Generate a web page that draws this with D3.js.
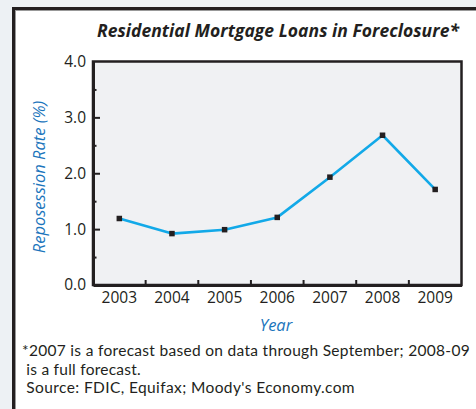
<!DOCTYPE html>
<html>
<head>
<meta charset="utf-8">
<script src="https://cdn.jsdelivr.net/npm/d3@7"></script>
<style>
  html, body { margin: 0; padding: 0; background: #edf1f4; }
  svg { display: block; }
  text { fill: #231f20; }
</style>
</head>
<body>
<div id="chart"></div>
<script>
// data
const years = ['2003', '2004', '2005', '2006', '2007', '2008', '2009']
const rates = [1.19, 0.92, 0.99, 1.21, 1.93, 2.68, 1.71]
const yTicks = [0, 1, 2, 3, 4]
const yMinorTicks = [0.5, 1.5, 2.5, 3.5]
const titleText = 'Residential Mortgage Loans in Foreclosure*'
const noteLines = [
	'*2007 is a forecast based on data through September; 2008-09',
	' is a full forecast.',
	' Source: FDIC, Equifax; Moody\'s Economy.com'
]

const width = 476
const height = 409
const margin = { top: 61.5, right: 14.5, bottom: 124, left: 93 }
const ink = '#231f20'
const blue = '#1b75bc'

// stretch a text line to a target width with letter spacing (fonts differ from the original)
const fitWidth = (sel, target) => {
	sel.each(function () {
		const len = this.getComputedTextLength()
		const n = this.textContent.length
		if (n > 1) d3.select(this).style('letter-spacing', `${(target - len) / n}px`)
	})
}

const svg = d3.select('#chart')
	.append('svg')
	.attr('width', width)
	.attr('height', height)

// card frame that runs off the right and bottom edges
svg.append('rect')
	.attr('x', 13.5).attr('y', 8.5)
	.attr('width', width + 20).attr('height', height + 20)
	.attr('fill', '#fff')
	.attr('stroke', ink)
	.attr('stroke-width', 3)
svg.append('rect')
	.attr('x', 15.5).attr('y', 10.5)
	.attr('width', width + 20).attr('height', height + 20)
	.attr('fill', 'none')
	.attr('stroke', '#999')
	.attr('stroke-width', 1)

const x = d3.scaleBand()
	.domain(years)
	.range([margin.left, width - margin.right])
	.padding(0)

const y = d3.scaleLinear()
	.domain([0, 4])
	.range([height - margin.bottom, margin.top])

// plot panel
svg.append('rect')
	.attr('x', margin.left)
	.attr('y', margin.top)
	.attr('width', width - margin.right - margin.left)
	.attr('height', y(0) - margin.top)
	.attr('fill', '#f0f1f3')
	.attr('stroke', ink)
	.attr('stroke-width', 2.5)

// title
svg.append('text')
	.attr('x', 97)
	.attr('y', 37.3)
	.style('font-family', '"Open Sans", sans-serif')
	.style('font-weight', 'bold')
	.style('font-style', 'italic')
	.style('font-size', '17.5px')
	.text(titleText)
	.call(fitWidth, 362)

// y axis: labels plus inward ticks
const yAxis = svg.append('g')
	.attr('transform', `translate(${margin.left},0)`)
	.call(d3.axisLeft(y)
		.tickValues(yTicks)
		.tickFormat(d3.format('.1f'))
		.tickSizeInner(-7)
		.tickSizeOuter(0)
		.tickPadding(7))
yAxis.select('.domain').attr('stroke', ink).attr('stroke-width', 3)
yAxis.selectAll('.tick line').attr('stroke', ink).attr('stroke-width', 2)
	.filter(d => d === 0 || d === 4).remove()
yAxis.selectAll('.tick text')
	.style('font-family', '"Open Sans", sans-serif')
	.style('font-size', '15.5px')
	.attr('fill', ink)

const yMinor = svg.append('g')
	.attr('transform', `translate(${margin.left},0)`)
	.call(d3.axisLeft(y)
		.tickValues(yMinorTicks)
		.tickFormat('')
		.tickSizeInner(-3.5)
		.tickSizeOuter(0))
yMinor.select('.domain').remove()
yMinor.selectAll('.tick line').attr('stroke', ink).attr('stroke-width', 2)

// x axis: labels at band centres, ticks at band edges
const xAxis = svg.append('g')
	.attr('transform', `translate(0,${y(0)})`)
	.call(d3.axisBottom(x).tickSize(0).tickPadding(7))
xAxis.select('.domain').attr('stroke', ink).attr('stroke-width', 3)
xAxis.selectAll('.tick text')
	.style('font-family', '"Open Sans", sans-serif')
	.style('font-size', '15.5px')
	.attr('fill', ink)

svg.append('g')
	.selectAll('line')
	.data(years.slice(1))
	.join('line')
	.attr('x1', d => x(d)).attr('x2', d => x(d))
	.attr('y1', y(0)).attr('y2', y(0) - 5)
	.attr('stroke', ink)
	.attr('stroke-width', 2)

// axis titles
svg.append('text')
	.attr('transform', `translate(45,177) rotate(-90)`)
	.attr('text-anchor', 'middle')
	.style('font-family', '"Open Sans", sans-serif')
	.style('font-style', 'italic')
	.style('font-size', '16.5px')
	.style('fill', blue)
	.text('Reposession Rate (%)')

svg.append('text')
	.attr('x', 276)
	.attr('y', 331)
	.attr('text-anchor', 'middle')
	.style('font-family', '"Open Sans", sans-serif')
	.style('font-style', 'italic')
	.style('font-size', '16.5px')
	.style('fill', blue)
	.text('Year')

// the series
const points = years.map((yr, i) => ({ year: yr, value: rates[i] }))
const line = d3.line()
	.x(d => x(d.year) + x.bandwidth() / 2)
	.y(d => y(d.value))

svg.append('path')
	.datum(points)
	.attr('fill', 'none')
	.attr('stroke', '#12a9e8')
	.attr('stroke-width', 2.6)
	.attr('stroke-linejoin', 'round')
	.attr('d', line)

svg.append('g')
	.selectAll('rect')
	.data(points)
	.join('rect')
	.attr('x', d => x(d.year) + x.bandwidth() / 2 - 2.75)
	.attr('y', d => y(d.value) - 2.75)
	.attr('width', 5.5)
	.attr('height', 5.5)
	.attr('fill', ink)

// footnote
const notes = svg.append('g')
	.selectAll('text')
	.data(noteLines)
	.join('text')
	.attr('x', 22)
	.attr('y', (d, i) => [356, 375, 393][i])
	.attr('xml:space', 'preserve')
	.style('white-space', 'pre')
	.style('font-family', 'Lato, sans-serif')
	.style('font-size', '15.5px')
	.text(d => d)
notes.filter((d, i) => i === 0).call(fitWidth, 448)
notes.filter((d, i) => i === 1).call(fitWidth, 119)
notes.filter((d, i) => i === 2).call(fitWidth, 333)
</script>
</body>
</html>
